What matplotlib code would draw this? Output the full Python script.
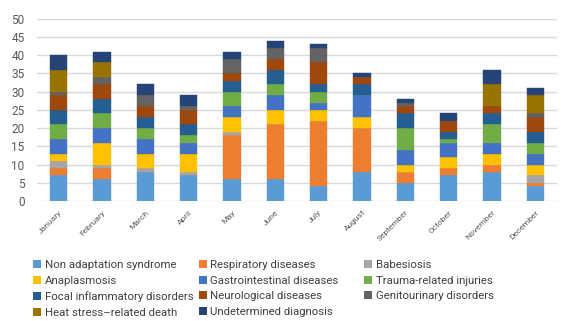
import numpy as np
import matplotlib
matplotlib.use("Agg")
import matplotlib.pyplot as plt
from matplotlib.patches import Patch

plt.rcParams['font.family'] = ['Roboto', 'DejaVu Sans']

months = ["January", "February", "March", "April", "May", "June",
          "July", "August", "September", "October", "November", "December"]

categories = ["Non adaptation syndrome", "Respiratory diseases", "Babesiosis",
              "Anaplasmosis", "Gastrointestinal diseases", "Trauma-related injuries",
              "Focal inflammatory disorders", "Neurological diseases",
              "Genitourinary disorders", "Heat stress\u2013related death",
              "Undetermined diagnosis"]

# cases per month, one list per diagnosis
non_adaptation = [7, 6, 8, 7, 6, 6, 4, 8, 5, 7, 8, 4]
respiratory = [2, 3, 0, 0, 12, 15, 18, 12, 3, 2, 2, 1]
babesiosis = [2, 1, 1, 1, 1, 0, 0, 0, 0, 0, 0, 2]
anaplasmosis = [2, 6, 4, 5, 4, 4, 3, 3, 2, 3, 3, 3]
gastrointestinal = [4, 4, 4, 3, 3, 4, 2, 6, 4, 4, 3, 3]
trauma = [4, 4, 3, 2, 4, 3, 3, 0, 6, 1, 5, 3]
focal_inflammatory = [4, 4, 3, 3, 3, 4, 2, 3, 4, 2, 3, 3]
neurological = [4, 4, 3, 4, 2, 3, 6, 2, 2, 3, 2, 4]
genitourinary = [1, 2, 3, 1, 4, 3, 4, 0, 1, 0, 0, 1]
heat_stress = [6, 4, 0, 0, 0, 0, 0, 0, 0, 0, 6, 5]
undetermined = [4, 3, 3, 3, 2, 2, 1, 1, 1, 2, 4, 2]

series = [non_adaptation, respiratory, babesiosis, anaplasmosis, gastrointestinal,
          trauma, focal_inflammatory, neurological, genitourinary, heat_stress,
          undetermined]

colors = ["#5B9BD5", "#ED7D31", "#A5A5A5", "#FFC000", "#4472C4", "#70AD47",
          "#255E91", "#9E480E", "#636363", "#997300", "#264478"]

fig = plt.figure(figsize=(5.64, 3.21), dpi=100)
ax = fig.add_axes([0.0656, 0.3738, 0.922, 0.568])

x = np.arange(len(months))
bottom = np.zeros(len(months))
for vals, col in zip(series, colors):
    vals = np.array(vals, dtype=float)
    ax.bar(x, vals, width=0.4, bottom=bottom, color=col, edgecolor=col,
           linewidth=0.3, zorder=3)
    bottom += vals

ax.set_xlim(-0.5, len(months) - 0.5)
ax.set_ylim(0, 50)
ax.set_yticks(np.arange(0, 51, 5))
ax.grid(axis='y', color='#D9D9D9', linewidth=1.0, zorder=0)
for s in ax.spines.values():
    s.set_visible(False)

ax.tick_params(axis='y', length=0, pad=9, labelsize=8.5, labelcolor='#595959')
ax.tick_params(axis='x', length=0, pad=6, labelsize=6, labelcolor='#595959')
ax.set_xticks(x)
ax.set_xticklabels(months, rotation=45, ha='right', rotation_mode='anchor')

# legend laid out in three columns, filled row by row
col_x = [0.058, 0.352, 0.645]
for c in range(3):
    idx = list(range(c, len(categories), 3))
    handles = [Patch(facecolor=colors[i], edgecolor='none') for i in idx]
    labels = [categories[i] for i in idx]
    fig.legend(handles, labels, loc='upper left', bbox_to_anchor=(col_x[c], 0.19),
               frameon=False, fontsize=8.2, handlelength=0.7, handleheight=0.7,
               handletextpad=0.35, labelspacing=0.5, borderpad=0, borderaxespad=0,
               labelcolor='#404040')

fig.savefig("out.png", dpi=100)
